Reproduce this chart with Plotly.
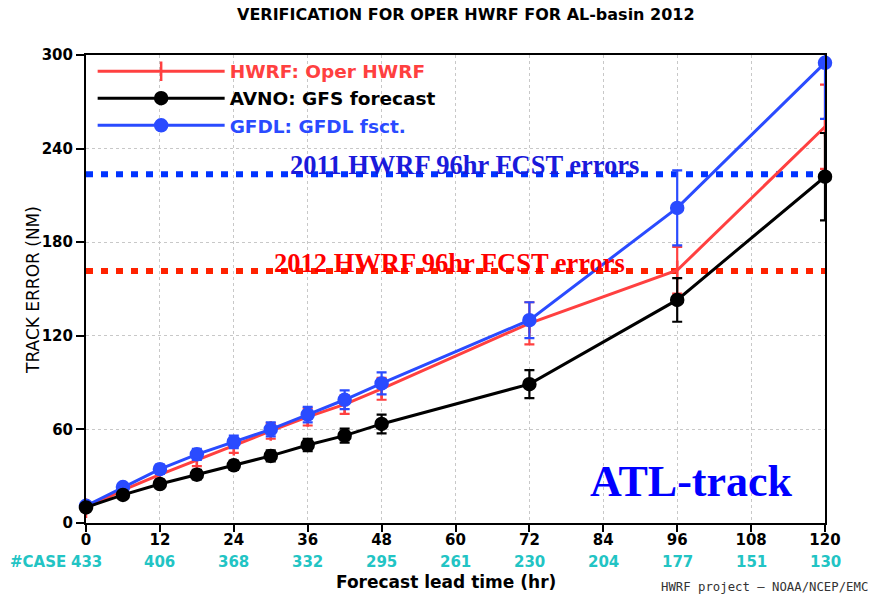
import plotly.graph_objects as go

# ---- data ----
hours = [0, 6, 12, 18, 24, 30, 36, 42, 48, 72, 96, 120]
hwrf = [9.5, 21, 31, 40.5, 49.5, 59, 68, 76, 86, 128, 162, 254]
hwrf_err = [1.5, 2.5, 3, 4, 4.5, 5, 5.5, 6, 7, 13.5, 15, 27]
avno = [10, 18, 25, 31, 37, 43, 50, 56, 63.5, 89, 143, 222]
avno_err = [1.5, 2, 2.5, 3, 3, 3.5, 4, 4.5, 6, 9, 14, 28]
gfdl = [11, 23, 34.5, 44, 52, 60, 69.5, 79, 89.5, 130, 202, 295]
gfdl_err = [1.5, 2.5, 3, 3.5, 4, 4.5, 5, 6, 7, 11.5, 24, 36]

case_hours = [0, 12, 24, 36, 48, 60, 72, 84, 96, 108, 120]
case_counts = [433, 406, 368, 332, 295, 261, 230, 204, 177, 151, 130]

ref_2011_96hr = 223.5
ref_2012_96hr = 161.5
ref_x = [0, 120]

x_ticks = [0, 12, 24, 36, 48, 60, 72, 84, 96, 108, 120]
y_ticks = [0, 60, 120, 180, 240, 300]

RED = "#ff4040"
BLUE = "#2a4bff"
BLACK = "#000000"
CYAN = "#22c4c4"

fig = go.Figure()

# reference dotted lines
fig.add_trace(go.Scatter(x=ref_x, y=[ref_2011_96hr] * 2, mode="lines",
                         line=dict(color="#0033ff", width=6, dash="7px,8px"),
                         showlegend=False, hoverinfo="skip"))
fig.add_trace(go.Scatter(x=ref_x, y=[ref_2012_96hr] * 2, mode="lines",
                         line=dict(color="#ff2200", width=6, dash="7px,8px"),
                         showlegend=False, hoverinfo="skip"))

series = [
    ("HWRF: Oper HWRF", hwrf, hwrf_err, RED, "line-ns", 1),
    ("GFDL: GFDL fsct.", gfdl, gfdl_err, BLUE, "circle", 3),
    ("AVNO: GFS forecast", avno, avno_err, BLACK, "circle", 2),
]
for name, ys, err, col, sym, rank in series:
    fig.add_trace(go.Scatter(
        x=hours, y=ys, mode="lines+markers",
        name=f"<span style='color:{col}'>{name}</span>",
        legendrank=rank,
        line=dict(color=col, width=3),
        marker=dict(symbol=sym, size=12 if sym == "circle" else 14, color=col,
                    line=dict(color=col, width=2.5)),
        error_y=dict(type="data", array=err, visible=True, color=col,
                     thickness=2.2, width=5),
        cliponaxis=False,
    ))

annotations = []
for h, c in zip(case_hours, case_counts):
    annotations.append(dict(x=h, y=0, xref="x", yref="paper", yshift=-39,
                            text=str(c), showarrow=False,
                            xanchor="center", yanchor="middle",
                            font=dict(family="DejaVu Sans", size=15, color=CYAN,
                                      weight="bold")))
annotations += [
    dict(x=-0.0244, y=0, xref="paper", yref="paper", yshift=-39, text="#CASE",
         showarrow=False, xanchor="right", yanchor="middle",
         font=dict(family="DejaVu Sans", size=15, color=CYAN, weight="bold")),
    dict(x=0.4878, y=-0.126, xref="paper", yref="paper",
         text="Forecast lead time (hr)", showarrow=False,
         xanchor="center", yanchor="middle",
         font=dict(family="DejaVu Sans", size=17, color="black", weight="bold")),
    dict(x=-0.0717, y=0.498, xref="paper", yref="paper",
         text="TRACK ERROR (NM)", showarrow=False, textangle=-90,
         xanchor="center", yanchor="middle",
         font=dict(family="DejaVu Sans", size=17, color="black")),
    dict(x=0.514, y=1.0876, xref="paper", yref="paper",
         text="VERIFICATION FOR OPER HWRF FOR AL-basin 2012", showarrow=False,
         xanchor="center", yanchor="middle",
         font=dict(family="DejaVu Sans", size=16, color="black", weight="bold")),
    dict(x=0.776, y=-0.1368, xref="paper", yref="paper",
         text="HWRF project \u2014 NOAA/NCEP/EMC", showarrow=False,
         xanchor="left", yanchor="middle",
         font=dict(family="DejaVu Sans Mono", size=12.3, color="#333333")),
    dict(x=0.8187, y=0.0897, xref="paper", yref="paper", text="<b>ATL-track</b>",
         showarrow=False, xanchor="center", yanchor="middle",
         font=dict(family="Liberation Serif", size=44, color="#0000ff")),
    dict(x=61.4, y=ref_2011_96hr, xref="x", yref="y", yshift=9,
         text="<b>2011 HWRF 96hr FCST errors</b>", showarrow=False,
         xanchor="center", yanchor="middle",
         font=dict(family="Liberation Serif", size=26.5, color="#1a1adb")),
    dict(x=59.1, y=ref_2012_96hr, xref="x", yref="y", yshift=8,
         text="<b>2012 HWRF 96hr FCST errors</b>", showarrow=False,
         xanchor="center", yanchor="middle",
         font=dict(family="Liberation Serif", size=26.5, color="#ff0000")),
]

tickfont = dict(family="DejaVu Sans", size=15, color="black", weight="bold")

fig.update_layout(
    width=873, height=595,
    margin=dict(l=86, r=48, t=55, b=72),
    paper_bgcolor="white", plot_bgcolor="white",
    showlegend=True,
    legend=dict(x=0.009, y=1.005, xanchor="left", yanchor="top",
                bgcolor="rgba(0,0,0,0)", itemwidth=127,
                font=dict(family="DejaVu Sans", size=18.5, color="black",
                          weight="bold"),
                tracegroupgap=0),
    annotations=annotations,
    xaxis=dict(range=[0, 120], tickvals=x_ticks, showgrid=True,
               gridcolor="#c8c8c8", griddash="dot", gridwidth=1,
               showline=True, mirror=True, linecolor="black", linewidth=2,
               ticks="outside", ticklen=7, tickwidth=2, tickcolor="black",
               ticklabelstandoff=-5,
               zeroline=False, tickfont=tickfont),
    yaxis=dict(range=[0, 300], tickvals=y_ticks, showgrid=True,
               gridcolor="#c8c8c8", griddash="dot", gridwidth=1,
               showline=True, mirror=True, linecolor="black", linewidth=2,
               ticks="outside", ticklen=8, tickwidth=2, tickcolor="black",
               zeroline=False, tickfont=tickfont),
)

fig.write_html("out.html")
